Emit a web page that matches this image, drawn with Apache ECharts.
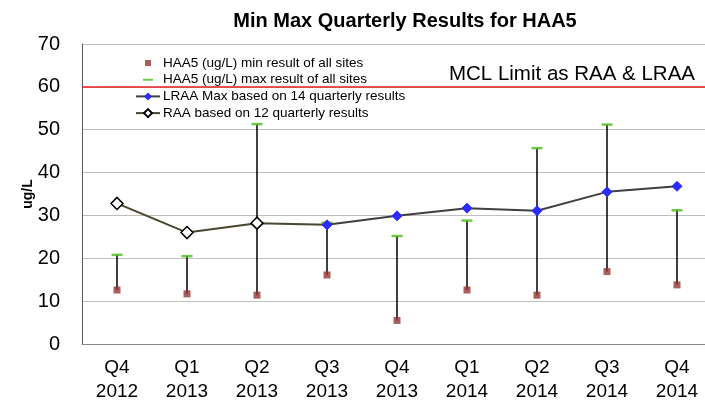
<!DOCTYPE html>
<html>
<head>
<meta charset="utf-8">
<script src="https://cdn.jsdelivr.net/npm/echarts@6/dist/echarts.min.js"></script>
<style>
  html, body { margin: 0; padding: 0; background: #fff; }
  #chart { width: 705px; height: 404px; }
</style>
</head>
<body>
<div id="chart"></div>
<script>
    "use strict";
    // quarters on the x axis
    var quarters = ["Q4\n2012", "Q1\n2013", "Q2\n2013", "Q3\n2013", "Q4\n2013", "Q1\n2014", "Q2\n2014", "Q3\n2014", "Q4\n2014"];
    // min / max of all sites, ug/L
    var minResult = [12.6, 11.7, 11.4, 16.1, 5.5, 12.6, 11.4, 16.9, 13.8];
    var maxResult = [20.8, 20.5, 51.3, 28.3, 25.2, 28.8, 45.7, 51.2, 31.2];
    // running annual averages
    var raaValues = [32.8, 26.0, 28.2, 27.8, null, null, null, null, null];
    var lraaValues = [null, null, null, 27.8, 29.9, 31.7, 31.1, 35.5, 36.8];
    var mclLimit = 60;
    var yTicks = [0, 10, 20, 30, 40, 50, 60, 70];

    var names = {
        min: "HAA5 (ug/L) min result of all sites",
        max: "HAA5 (ug/L) max result of all sites",
        lraa: "LRAA Max based on 14 quarterly results",
        raa: "RAA based on 12 quarterly results"
    };

    var font = "'Liberation Sans', Arial, sans-serif";

    var rangeData = quarters.map(function (q, i) {
        return [i, minResult[i], maxResult[i]];
    });

    // where LRAA takes over, the RAA marker is hidden under the blue one
    var raaData = raaValues.map(function (v, i) {
        if (v != null && lraaValues[i] != null) {
            return { value: v, symbol: "none" };
        }
        return v;
    });

    // tiny corner dots keep the legend icon box full size, so the mark stays small
    var box = "M0,0h.01v.01h-.01z M23.99,9.99h.01v.01h-.01z ";

    var chart = echarts.init(document.getElementById("chart"));
    chart.setOption({
        animation: false,
        textStyle: { fontFamily: font },
        title: {
            text: "Min Max Quarterly Results for HAA5",
            left: 400,
            textAlign: "center",
            top: 6,
            textStyle: { fontFamily: font, fontSize: 20, fontWeight: "bold", color: "#000" }
        },
        legend: {
            orient: "vertical",
            left: 130,
            top: 51,
            itemWidth: 24,
            itemHeight: 10,
            itemGap: 2.7,
            textStyle: { fontFamily: font, fontSize: 13.5, color: "#000", padding: [0, 0, 0, -2] },
            data: [
                { name: names.min, icon: "path://" + box + "M9,2h6v6h-6z", itemStyle: { color: "#953735" } },
                { name: names.max, icon: "path://" + box + "M7,4h10v2h-10z", itemStyle: { color: "#4cbb17" } },
                { name: names.lraa },
                { name: names.raa }
            ]
        },
        grid: { left: 82, top: 44, width: 630, bottom: 60, outerBoundsMode: "none" },
        xAxis: {
            type: "category",
            data: quarters,
            axisLine: { lineStyle: { color: "#868686" } },
            axisTick: { show: false },
            axisLabel: { fontFamily: font, fontSize: 19, color: "#000", margin: 12, lineHeight: 24 }
        },
        yAxis: {
            type: "value",
            min: yTicks[0],
            max: yTicks[yTicks.length - 1],
            interval: 10,
            name: "ug/L",
            nameLocation: "middle",
            nameGap: 47,
            nameMoveOverlap: false,
            nameTextStyle: { fontFamily: font, fontSize: 14, fontWeight: "bold", color: "#000" },
            axisLine: { show: true, lineStyle: { color: "#5a5a5a" } },
            axisTick: { show: false },
            axisLabel: { fontFamily: font, fontSize: 20, color: "#000", margin: 22 },
            splitLine: { lineStyle: { color: "#bfbfbf" } }
        },
        series: [
            {
                type: "custom",
                name: "range",
                data: rangeData,
                encode: { x: 0, y: [1, 2] },
                z: 2,
                renderItem: function (params, api) {
                    var lo = api.coord([api.value(0), api.value(1)]);
                    var hi = api.coord([api.value(0), api.value(2)]);
                    return {
                        type: "line",
                        shape: { x1: lo[0], y1: lo[1], x2: hi[0], y2: hi[1] },
                        style: { stroke: "#000", lineWidth: 1.5 }
                    };
                }
            },
            {
                type: "scatter",
                name: names.min,
                data: minResult,
                symbol: "rect",
                symbolSize: 7,
                itemStyle: { color: "#953735" },
                z: 3
            },
            {
                type: "scatter",
                name: names.max,
                data: maxResult,
                symbol: "rect",
                symbolSize: [11, 2.5],
                itemStyle: { color: "#4cbb17" },
                z: 3
            },
            {
                type: "line",
                name: names.raa,
                data: raaData,
                symbol: "diamond",
                symbolSize: 12,
                showAllSymbol: true,
                lineStyle: { color: "#4a4630", width: 2 },
                itemStyle: { color: "#fff", borderColor: "#000", borderWidth: 1.5 },
                z: 4,
                markLine: {
                    silent: true,
                    symbol: "none",
                    lineStyle: { color: "#f02020", width: 1.5, type: "solid" },
                    label: {
                        position: "insideEndTop",
                        formatter: "MCL Limit as RAA & LRAA",
                        fontFamily: font,
                        fontSize: 20.5,
                        color: "#000",
                        distance: [17, 2]
                    },
                    data: [{ yAxis: mclLimit }]
                }
            },
            {
                type: "line",
                name: names.lraa,
                data: lraaValues,
                symbol: "diamond",
                symbolSize: 10,
                showAllSymbol: true,
                lineStyle: { color: "#404040", width: 2 },
                itemStyle: { color: "#2b2bff", borderColor: "#2b2bff" },
                z: 5
            }
        ]
    });
</script>
</body>
</html>
